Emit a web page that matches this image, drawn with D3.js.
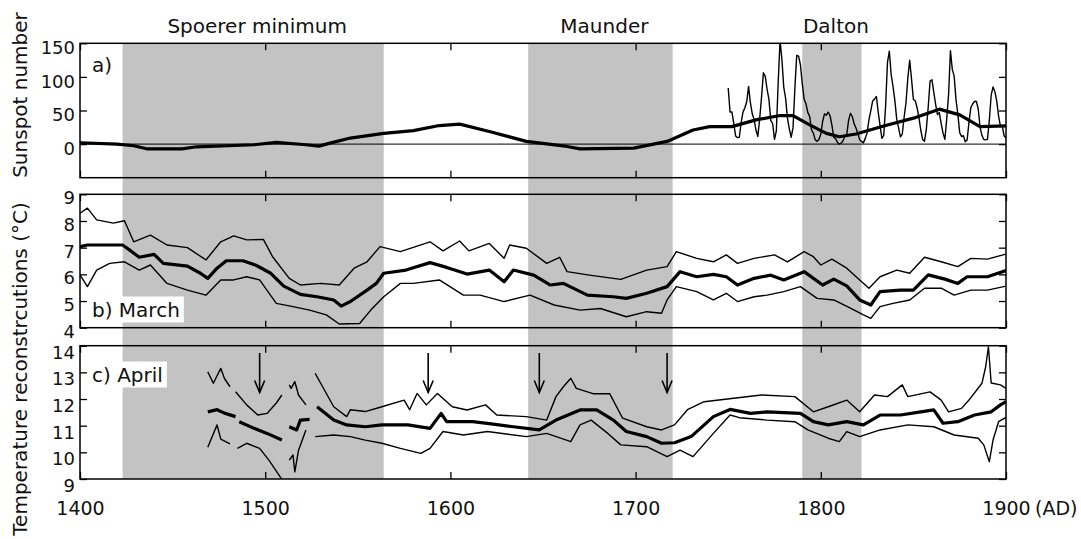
<!DOCTYPE html>
<html>
<head>
<meta charset="utf-8">
<script src="https://cdn.jsdelivr.net/npm/d3@7"></script>
<style>
body { margin: 0; background: #fff; }
text { font-family: "DejaVu Sans", sans-serif; fill: #111; }
</style>
</head>
<body>
<script>
// minima bands and arrows
var minimaNames = ["Spoerer minimum", "Maunder", "Dalton"];
var minimaStart = [1423, 1642, 1790];
var minimaEnd = [1564, 1720, 1822];
var arrowYears = [1497, 1588, 1648, 1717];

var xTicks = [1400, 1500, 1600, 1700, 1800, 1900];
var sunTicks = [0, 50, 100, 150];
var marchTicks = [4, 5, 6, 7, 8, 9];
var aprilTicks = [9, 10, 11, 12, 13, 14];

// a) sunspots: smoothed (thick) and annual (thin)
var sunSmooth = [[1400,2],[1420,0],[1429,-2.5],[1436,-7],[1455,-7],[1463,-4],[1494,-1],[1506,2.5],[1522,-1],[1529,-3],[1535,1.5],[1546,9],[1564,16],[1580,20],[1594,27.6],[1605,29.7],[1621,18.8],[1641,4],[1663,-3.5],[1670,-7],[1699,-6],[1717,4],[1731,21],[1740,26],[1752,26],[1765,36],[1778,42.5],[1785,42.5],[1794,28.7],[1803,16],[1810,11],[1819,15],[1834,27],[1850,38.6],[1864,52],[1875,43.5],[1886,26],[1900,27]];
var sunYears = d3.range(1750, 1901);
var sunAnnual = [83.4,47.7,47.8,30.7,12.2,9.6,10.2,32.4,47.6,54.0,62.9,85.9,61.2,45.1,36.4,20.9,11.4,37.8,69.8,106.1,100.8,81.6,66.5,34.8,30.6,7.0,19.8,92.5,154.4,125.9,84.8,68.1,38.5,22.8,10.2,24.1,82.9,132.0,130.9,118.1,89.9,66.6,60.0,46.9,41.0,21.3,16.0,6.4,4.1,6.8,14.5,34.0,45.0,43.1,47.5,42.2,28.1,10.1,8.1,2.5,0.0,1.4,5.0,12.2,13.9,35.4,45.8,41.1,30.1,23.9,15.6,6.6,4.0,1.8,8.5,16.6,36.3,49.6,64.2,67.0,70.9,47.8,27.5,8.5,13.2,56.9,121.5,138.3,103.2,85.7,64.6,36.7,24.2,10.7,15.0,40.1,61.5,98.5,124.7,96.3,66.6,64.5,54.1,39.0,20.6,6.7,4.3,22.7,54.8,93.8,95.8,77.2,59.1,44.0,47.0,30.5,16.3,7.3,37.6,74.0,139.0,111.2,101.6,66.2,44.7,17.0,11.3,12.4,3.4,6.0,32.3,54.3,59.7,63.7,63.5,52.2,25.4,13.1,6.8,6.3,7.1,35.6,73.0,85.1,78.0,64.0,41.8,26.2,26.7,12.1,9.5];

// b) March reconstruction: upper, mean, lower
var marchUpper = [[1400,8.29],[1404,8.48],[1409,8.04],[1418,7.92],[1424,8.01],[1429,7.22],[1438,7.47],[1447,7.1],[1458,7.0],[1468,6.54],[1476,7.22],[1483,7.44],[1490,7.29],[1499,7.31],[1504,6.66],[1513,5.85],[1519,5.6],[1530,5.66],[1540,5.6],[1548,6.23],[1555,6.47],[1562,7.04],[1573,6.85],[1589,7.22],[1596,6.88],[1605,7.25],[1610,6.88],[1621,7.16],[1629,6.6],[1632,7.1],[1641,6.98],[1652,6.41],[1659,6.64],[1663,6.1],[1675,5.97],[1692,5.81],[1706,6.16],[1717,6.29],[1722,6.85],[1733,6.6],[1742,6.47],[1749,6.73],[1755,6.41],[1764,6.6],[1775,6.73],[1782,6.47],[1791,6.85],[1796,6.66],[1800,6.35],[1806,6.57],[1814,6.23],[1821,5.79],[1826,5.48],[1832,5.91],[1841,6.16],[1848,6.04],[1856,6.64],[1865,6.47],[1874,6.29],[1881,6.6],[1890,6.57],[1900,6.76]];
var marchMean = [[1400,7.04],[1404,7.1],[1423,7.1],[1428,6.85],[1432,6.64],[1440,6.75],[1445,6.41],[1458,6.31],[1465,6.04],[1469,5.85],[1474,6.23],[1479,6.51],[1488,6.51],[1495,6.34],[1503,6.04],[1510,5.56],[1519,5.25],[1528,5.16],[1537,5.04],[1541,4.81],[1546,4.98],[1555,5.41],[1560,5.66],[1564,6.04],[1576,6.16],[1589,6.44],[1598,6.26],[1609,6.01],[1621,6.16],[1629,5.72],[1634,6.16],[1645,5.97],[1654,5.6],[1661,5.66],[1674,5.22],[1688,5.16],[1695,5.1],[1706,5.29],[1717,5.54],[1724,6.1],[1733,5.91],[1742,6.0],[1749,5.91],[1755,5.6],[1764,5.85],[1773,5.97],[1780,5.79],[1791,6.1],[1801,5.6],[1807,5.82],[1814,5.57],[1821,5.04],[1827,4.85],[1832,5.35],[1843,5.41],[1850,5.41],[1858,5.98],[1867,5.82],[1874,5.66],[1879,5.91],[1890,5.91],[1900,6.14]];
var marchLower = [[1400,5.98],[1404,5.54],[1409,6.16],[1416,6.41],[1424,6.47],[1432,6.16],[1438,6.35],[1447,5.66],[1458,5.41],[1468,5.22],[1476,5.79],[1483,5.79],[1490,5.91],[1497,5.79],[1506,4.91],[1515,4.79],[1524,4.66],[1533,4.48],[1540,4.14],[1551,4.16],[1557,4.66],[1564,5.16],[1573,5.66],[1580,5.66],[1594,5.79],[1607,5.22],[1616,5.22],[1629,4.98],[1643,5.22],[1656,4.85],[1670,4.66],[1681,4.72],[1695,4.41],[1706,4.6],[1714,4.54],[1717,5.04],[1722,5.54],[1733,5.35],[1742,5.04],[1749,5.29],[1755,4.98],[1764,5.16],[1771,5.22],[1780,5.35],[1789,5.54],[1798,5.1],[1807,5.04],[1816,4.73],[1823,4.48],[1827,4.35],[1832,4.79],[1839,4.91],[1848,5.04],[1856,5.48],[1865,5.48],[1872,5.22],[1881,5.41],[1890,5.41],[1900,5.56]];

// c) April reconstruction (null = gap)
var aprilUpper = [[1469,13.02],[1472,12.59],[1476,13.15],[1478,12.77],[1481,12.46],[1482,null],[1484,12.27],[1490,11.78],[1496,11.4],[1501,11.46],[1506,11.85],[1509,12.15],[1511,null],[1513,12.53],[1514,12.4],[1516,12.65],[1518,12.15],[1522,11.78],[1525,null],[1527,12.96],[1531,12.46],[1537,11.71],[1544,11.34],[1546,11.6],[1554,11.53],[1563,11.71],[1575,11.96],[1578,11.6],[1582,12.21],[1587,11.78],[1593,12.21],[1601,11.71],[1609,11.59],[1619,11.78],[1625,11.4],[1641,11.34],[1652,11.21],[1657,12.09],[1661,12.46],[1665,12.78],[1668,12.4],[1677,12.2],[1686,12.2],[1693,11.28],[1706,10.96],[1714,10.84],[1721,11.03],[1728,11.6],[1737,11.9],[1753,12.03],[1768,12.15],[1786,12.09],[1796,11.52],[1804,11.71],[1814,11.96],[1821,11.52],[1829,12.15],[1836,12.09],[1844,12.53],[1847,12.09],[1859,12.27],[1865,11.96],[1869,11.52],[1876,11.65],[1880,11.96],[1887,12.59],[1889,13.2],[1890.5,13.96],[1892,12.6],[1897,12.53],[1900,12.4]];
var aprilMean = [[1469,11.52],[1474,11.6],[1478,11.47],[1484,11.34],[1485,null],[1486,11.15],[1494,10.9],[1501,10.71],[1509,10.46],[1511,null],[1513,10.96],[1517,10.84],[1519,11.21],[1524,11.24],[1526,null],[1528,11.71],[1537,11.21],[1544,11.03],[1554,10.96],[1563,11.03],[1577,11.03],[1589,10.9],[1595,11.46],[1598,11.15],[1612,11.15],[1621,11.08],[1634,10.96],[1648,10.84],[1657,11.21],[1670,11.59],[1679,11.59],[1688,11.21],[1695,10.78],[1706,10.59],[1714,10.34],[1721,10.36],[1730,10.59],[1742,11.34],[1751,11.61],[1762,11.46],[1771,11.52],[1789,11.46],[1796,11.15],[1804,11.03],[1814,11.15],[1823,11.03],[1832,11.4],[1843,11.4],[1854,11.52],[1861,11.59],[1866,11.09],[1874,11.15],[1883,11.4],[1892,11.52],[1897,11.78],[1900,11.9]];
var aprilLower = [[1469,10.19],[1474,11.03],[1476,10.5],[1481,10.32],[1483,null],[1485,10.15],[1490,10.34],[1497,10.15],[1502,9.71],[1508,9.09],[1510,8.9],[1511,null],[1513,9.71],[1515,9.9],[1516,9.27],[1518,10.08],[1522,10.84],[1525,null],[1527,10.59],[1537,10.65],[1546,10.59],[1554,10.46],[1563,10.34],[1573,10.15],[1584,9.96],[1589,10.15],[1596,10.78],[1607,10.65],[1620,10.78],[1641,10.59],[1652,10.71],[1665,10.4],[1670,11.03],[1676,11.21],[1685,10.71],[1692,10.28],[1706,10.21],[1717,9.84],[1724,10.08],[1731,9.84],[1742,10.71],[1751,11.4],[1756,11.3],[1771,11.21],[1786,11.15],[1793,10.84],[1804,10.53],[1810,10.4],[1814,10.78],[1821,10.59],[1832,10.84],[1847,11.03],[1861,10.96],[1872,10.65],[1885,10.53],[1888,10.28],[1891,9.65],[1893,10.46],[1896,11.15],[1900,11.31]];

var width = 1081, height = 539;
var svg = d3.select("body").append("svg")
    .attr("width", width).attr("height", height);

var x = d3.scaleLinear().domain([1400, 1900]).range([80, 1006]);

var panels = [
  {id: "a", top: 43.3, bottom: 177.7, domain: [-50, 150], ticks: sunTicks, lab: 4},
  {id: "b", top: 194.3, bottom: 327.7, domain: [4, 9], ticks: marchTicks, lab: 3},
  {id: "c", top: 345.7, bottom: 479, domain: [9, 14], ticks: aprilTicks, lab: 6}
];
panels.forEach(function(p) {
  p.y = d3.scaleLinear().domain(p.domain).range([p.bottom, p.top]);
});

// shaded minima, running through all three panels
svg.selectAll("rect.band").data(minimaStart).enter().append("rect")
    .attr("class", "band")
    .attr("x", function(d) { return x(d); })
    .attr("width", function(d, i) { return x(minimaEnd[i]) - x(d); })
    .attr("y", panels[0].top)
    .attr("height", panels[2].bottom - panels[0].top)
    .attr("fill", "#c3c3c3");

svg.selectAll("text.minname").data(minimaNames).enter().append("text")
    .attr("class", "minname")
    .attr("x", function(d, i) { return (x(minimaStart[i]) + x(minimaEnd[i])) / 2 + 4; })
    .attr("y", 33)
    .attr("text-anchor", "middle")
    .style("font-size", "20px")
    .text(function(d) { return d; });

var defs = svg.append("defs");
panels.forEach(function(p) {
  defs.append("clipPath").attr("id", "clip" + p.id)
    .append("rect").attr("x", 80).attr("y", p.top)
    .attr("width", 926).attr("height", p.bottom - p.top);
});

function drawLine(p, data, w) {
  var line = d3.line()
      .defined(function(d) { return d[1] != null; })
      .x(function(d) { return x(d[0]); })
      .y(function(d) { return p.y(d[1]); })
      .curve(d3.curveLinear);
  svg.append("path")
      .attr("d", line(data))
      .attr("clip-path", "url(#clip" + p.id + ")")
      .attr("fill", "none")
      .attr("stroke", "#000")
      .attr("stroke-width", w)
      .attr("stroke-linejoin", "round");
}

// panel a
var pa = panels[0];
svg.append("line")
    .attr("x1", x(1400)).attr("x2", x(1900))
    .attr("y1", pa.y(0)).attr("y2", pa.y(0))
    .attr("stroke", "#000").attr("stroke-width", 1);
drawLine(pa, sunYears.map(function(yr, i) { return [yr, sunAnnual[i]]; }), 1.4);
drawLine(pa, sunSmooth, 3.2);

// panel b
var pb = panels[1];
drawLine(pb, marchUpper, 1.4);
drawLine(pb, marchLower, 1.4);
drawLine(pb, marchMean, 3.2);

// panel c
var pc = panels[2];
drawLine(pc, aprilUpper, 1.4);
drawLine(pc, aprilLower, 1.4);
drawLine(pc, aprilMean, 3.2);

// arrows
var arrows = svg.append("g").attr("stroke", "#000").attr("stroke-width", 1.6).attr("fill", "none");
arrowYears.forEach(function(yr) {
  var ax = x(yr), tip = 392.5;
  arrows.append("line").attr("x1", ax).attr("x2", ax).attr("y1", 353).attr("y2", tip);
  arrows.append("path").attr("d", "M" + (ax - 5) + "," + (tip - 12) + "L" + ax + "," + tip + "L" + (ax + 5) + "," + (tip - 12));
});

// frames and axes
panels.forEach(function(p, k) {
  var g = svg.append("g");
  var left = g.append("g").attr("transform", "translate(80,0)")
      .call(d3.axisLeft(p.y).tickValues(p.ticks).tickSize(-7).tickPadding(5).tickFormat(d3.format("d")));
  left.selectAll("text").attr("dy", "0.36em").attr("y", p.lab)
      .style("font-size", "18px").style("font-family", "DejaVu Sans");
  g.append("g").attr("transform", "translate(1006,0)")
      .call(d3.axisRight(p.y).tickValues(p.ticks).tickSize(-7).tickFormat(""));
  g.append("g").attr("transform", "translate(0," + p.top + ")")
      .call(d3.axisTop(x).tickValues(xTicks).tickSize(-7).tickFormat(""));
  var bottom = g.append("g").attr("transform", "translate(0," + p.bottom + ")")
      .call(d3.axisBottom(x).tickValues(xTicks).tickSize(-7)
        .tickFormat(k == 2 ? d3.format("d") : ""));
  bottom.selectAll("text").attr("y", 36).attr("dy", null)
      .style("font-size", "19px").style("font-family", "DejaVu Sans");
  g.selectAll(".domain").remove();
  g.selectAll(".tick line").attr("stroke", "#000").attr("stroke-width", 1.3);
  g.append("rect")
      .attr("x", 80).attr("y", p.top)
      .attr("width", 926).attr("height", p.bottom - p.top)
      .attr("fill", "none").attr("stroke", "#000").attr("stroke-width", 1.5);
});

svg.append("text")
    .attr("x", x(1900) + 29).attr("y", 515)
    .style("font-size", "19px")
    .text("(AD)");

// panel labels
svg.append("text").attr("x", 92).attr("y", 72).style("font-size", "20px").text("a)");
[["b) March", pb, 316.5], ["c) April", pc, 381.5]].forEach(function(l) {
  var t = svg.append("text").attr("x", 92).attr("y", l[2]).style("font-size", "20px").text(l[0]);
  var bb = t.node().getBBox();
  svg.insert("rect", function() { return t.node(); })
      .attr("x", bb.x - 4).attr("y", bb.y - 1)
      .attr("width", bb.width + 8).attr("height", bb.height + 2)
      .attr("fill", "#fff");
});

// axis titles
svg.append("text")
    .attr("transform", "translate(27,95) rotate(-90)")
    .attr("text-anchor", "middle")
    .style("font-size", "20px")
    .text("Sunspot number");
svg.append("text")
    .attr("transform", "translate(27,369) rotate(-90)")
    .attr("text-anchor", "middle")
    .style("font-size", "20px")
    .text("Temperature reconstrcutions (°C)");
</script>
</body>
</html>
